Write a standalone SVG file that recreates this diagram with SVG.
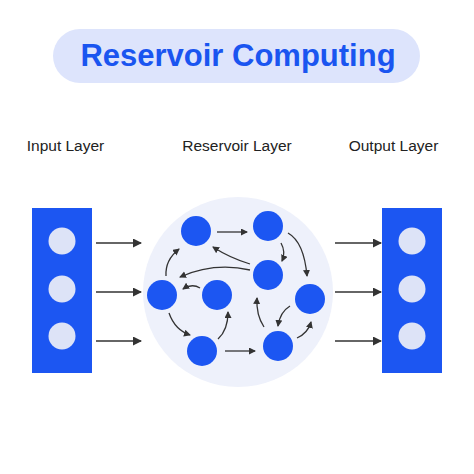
<svg xmlns="http://www.w3.org/2000/svg" width="474" height="474" viewBox="0 0 474 474">
<style>
.lbl{font-family:"Liberation Sans",Arial,sans-serif;font-size:15.5px;fill:#222;text-anchor:middle}
.title{font-family:"Liberation Sans",Arial,sans-serif;font-size:31px;font-weight:bold;fill:#1a55f0;text-anchor:middle}
.blk{fill:#1c56f2}
.dot{fill:#dde3f7}
.node{fill:#1c56f2}
.e{fill:none;stroke:#333;stroke-width:1.3;marker-end:url(#ah)}
.big{fill:none;stroke:#333;stroke-width:1.6;marker-end:url(#ahb)}
</style>
<defs>
<marker id="ah" markerUnits="userSpaceOnUse" markerWidth="8" markerHeight="8" refX="6" refY="3.5" orient="auto">
<path d="M0,0 L7,3.5 L0,7 Z" fill="#333"/>
</marker>
<marker id="ahb" markerUnits="userSpaceOnUse" markerWidth="10" markerHeight="10" refX="8" refY="4.5" orient="auto">
<path d="M0,0 L9,4.5 L0,9 Z" fill="#333"/>
</marker>
</defs>
<rect width="474" height="474" fill="#fff"/>
<g id="title">
<rect x="53" y="29" width="367" height="54" rx="27" fill="#dde4fc"/>
<text class="title" x="238" y="66">Reservoir Computing</text>
</g>
<g id="labels">
<text class="lbl" x="65.5" y="151">Input Layer</text>
<text class="lbl" x="237" y="151">Reservoir Layer</text>
<text class="lbl" x="393.5" y="151">Output Layer</text>
</g>
<g id="input-layer">
<rect class="blk" x="32" y="208" width="60" height="165"/>
<circle class="dot" cx="62" cy="241" r="13.5"/>
<circle class="dot" cx="62" cy="289" r="13.5"/>
<circle class="dot" cx="62" cy="336" r="13.5"/>
</g>
<g id="output-layer">
<rect class="blk" x="382" y="208" width="60" height="165"/>
<circle class="dot" cx="412" cy="241" r="13.5"/>
<circle class="dot" cx="412" cy="289" r="13.5"/>
<circle class="dot" cx="412" cy="336" r="13.5"/>
</g>
<g id="reservoir">
<circle cx="238" cy="292" r="95" fill="#eef1fb"/>
</g>
<g id="nodes">
<circle id="nA" class="node" cx="196" cy="231" r="15"/>
<circle id="nB" class="node" cx="268" cy="226" r="15"/>
<circle id="nC" class="node" cx="268" cy="275" r="15"/>
<circle id="nD" class="node" cx="310" cy="299" r="15"/>
<circle id="nE" class="node" cx="162" cy="295" r="15"/>
<circle id="nF" class="node" cx="217" cy="295" r="15"/>
<circle id="nG" class="node" cx="202" cy="351" r="15"/>
<circle id="nH" class="node" cx="278" cy="346" r="15"/>
</g>
<g id="connectors">
<path class="big" d="M96,243 L141,243"/>
<path class="big" d="M96,292 L141,292"/>
<path class="big" d="M96,341 L141,341"/>
<path class="big" d="M335,243 L381,243"/>
<path class="big" d="M335,292 L381,292"/>
<path class="big" d="M335,341 L381,341"/>
<path class="e" d="M217,232 L247,232"/>
<path class="e" d="M288,233 Q304,242 307,276"/>
<path class="e" d="M281,243 Q286,252 282,261"/>
<path class="e" d="M250,264 Q230,258 213,247"/>
<path class="e" d="M250,270 Q214,262 180,277"/>
<path class="e" d="M200,288 Q192,283 183,289"/>
<path class="e" d="M166,276 Q165,260 179,249"/>
<path class="e" d="M169,313 Q175,330 190,335"/>
<path class="e" d="M218,339 Q228,330 228,312"/>
<path class="e" d="M225,351 L255,351"/>
<path class="e" d="M264,327 Q256,315 257,298"/>
<path class="e" d="M290,306 Q280,312 278,326"/>
<path class="e" d="M297,338 Q308,333 311,322"/>
</g>
</svg>
